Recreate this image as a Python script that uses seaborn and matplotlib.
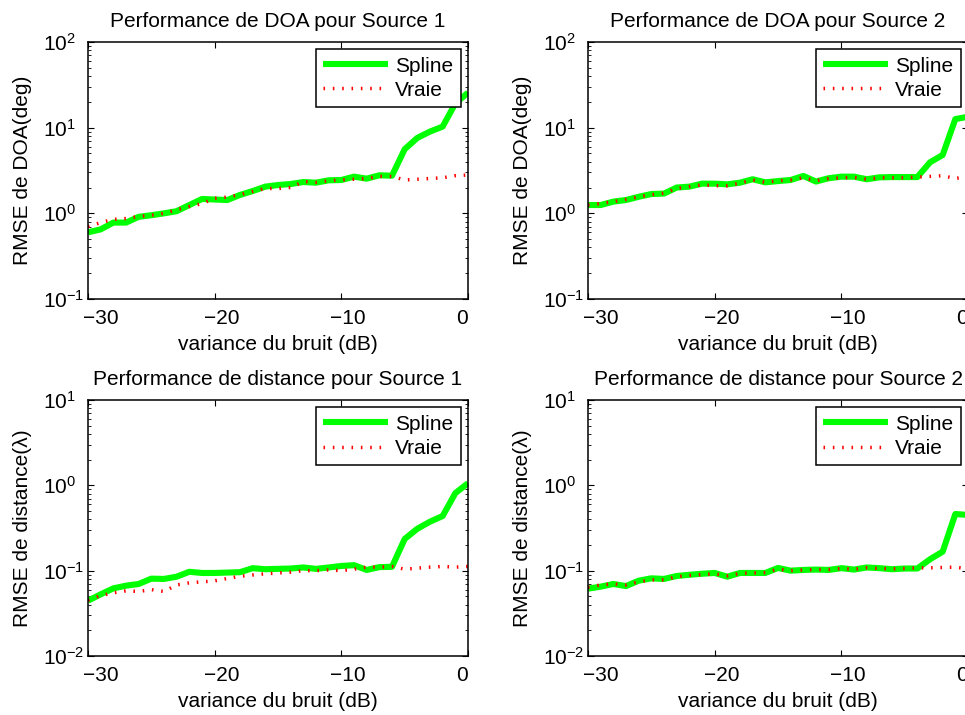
import numpy as np
import pandas as pd
import matplotlib
matplotlib.use("Agg")
import matplotlib.pyplot as plt
import matplotlib.transforms as mtransforms
import seaborn as sns
from matplotlib.ticker import LogLocator, NullLocator, FixedLocator

# Noise variance grid (dB)
noise_db = list(range(-30, 1))

# RMSE of DOA estimate (degrees), source 1
doa_s1_spline = [0.60, 0.65, 0.78, 0.78, 0.91, 0.95, 1.00, 1.06, 1.25, 1.47,
                 1.45, 1.43, 1.64, 1.82, 2.05, 2.14, 2.20, 2.32, 2.28, 2.43,
                 2.45, 2.68, 2.54, 2.78, 2.75, 5.6, 7.6, 9.0, 10.3, 19.2, 25.6]
doa_s1_vraie = [0.70, 0.78, 0.85, 0.87, 0.92, 0.95, 1.00, 1.10, 1.20, 1.30,
                1.50, 1.55, 1.65, 1.80, 1.95, 1.95, 2.00, 2.35, 2.30, 2.40,
                2.45, 2.50, 2.55, 2.70, 2.70, 2.45, 2.50, 2.55, 2.60, 2.75, 2.80]

# RMSE of DOA estimate (degrees), source 2
doa_s2_spline = [1.25, 1.25, 1.37, 1.43, 1.56, 1.68, 1.70, 2.00, 2.05, 2.22,
                 2.22, 2.18, 2.28, 2.50, 2.30, 2.38, 2.45, 2.73, 2.35, 2.57,
                 2.68, 2.68, 2.50, 2.63, 2.65, 2.65, 2.65, 3.94, 4.8, 12.6, 13.4]
doa_s2_vraie = [1.25, 1.30, 1.37, 1.45, 1.56, 1.65, 1.72, 1.95, 2.05, 2.15,
                2.10, 2.10, 2.25, 2.45, 2.30, 2.40, 2.45, 2.60, 2.40, 2.55,
                2.60, 2.62, 2.50, 2.60, 2.60, 2.60, 2.65, 2.70, 2.75, 2.55, 2.70]

# RMSE of distance estimate (wavelengths), source 1
dist_s1_spline = [0.0445, 0.0528, 0.062, 0.0667, 0.0698, 0.0806, 0.080, 0.085,
                  0.097, 0.094, 0.094, 0.095, 0.096, 0.107, 0.104, 0.105,
                  0.106, 0.109, 0.105, 0.109, 0.1135, 0.116, 0.102, 0.110,
                  0.111, 0.235, 0.31, 0.375, 0.437, 0.81, 1.06]
dist_s1_vraie = [0.045, 0.051, 0.055, 0.058, 0.057, 0.060, 0.057, 0.068,
                 0.072, 0.074, 0.076, 0.081, 0.086, 0.089, 0.092, 0.094,
                 0.096, 0.100, 0.100, 0.102, 0.100, 0.104, 0.110, 0.110,
                 0.112, 0.104, 0.107, 0.110, 0.112, 0.110, 0.112]

# RMSE of distance estimate (wavelengths), source 2
dist_s2_spline = [0.0615, 0.065, 0.0698, 0.066, 0.0763, 0.0813, 0.080, 0.0866,
                  0.0895, 0.092, 0.094, 0.085, 0.094, 0.094, 0.094, 0.1076,
                  0.100, 0.102, 0.103, 0.102, 0.107, 0.103, 0.109, 0.107,
                  0.104, 0.106, 0.106, 0.136, 0.167, 0.461, 0.450]
dist_s2_vraie = [0.064, 0.068, 0.070, 0.068, 0.074, 0.078, 0.078, 0.085,
                 0.088, 0.090, 0.092, 0.087, 0.093, 0.094, 0.095, 0.104,
                 0.100, 0.102, 0.103, 0.103, 0.106, 0.104, 0.108, 0.106,
                 0.105, 0.106, 0.108, 0.108, 0.109, 0.110, 0.105]

titles = ["Performance de DOA pour Source 1", "Performance de DOA pour Source 2",
          "Performance de distance pour Source 1", "Performance de distance pour Source 2"]
ylabels = ["RMSE de DOA(deg)", "RMSE de DOA(deg)",
           "RMSE de distance(λ)", "RMSE de distance(λ)"]
xlabel = "variance du bruit (dB)"
legend_labels = ["Spline", "Vraie"]
ylims = [(1e-1, 1e2), (1e-1, 1e2), (1e-2, 1e1), (1e-2, 1e1)]
xticks = [-30, -20, -10, 0]

series = [(doa_s1_spline, doa_s1_vraie), (doa_s2_spline, doa_s2_vraie),
          (dist_s1_spline, dist_s1_vraie), (dist_s2_spline, dist_s2_vraie)]

sns.set_theme(style="ticks")
plt.rcParams["font.family"] = ["Liberation Sans", "DejaVu Sans"]
plt.rcParams["mathtext.fontset"] = "custom"
plt.rcParams["mathtext.rm"] = "Liberation Sans"
plt.rcParams["mathtext.it"] = "Liberation Sans:italic"
plt.rcParams["axes.unicode_minus"] = True
for key in ["text.color", "axes.labelcolor", "xtick.color", "ytick.color",
            "axes.edgecolor"]:
    plt.rcParams[key] = "black"

FS = 15
fig = plt.figure(figsize=(9.65, 7.15), dpi=100)
fig.patch.set_facecolor("white")

W, H = 965.0, 715.0
axw = 380.0
boxes = [(88, 42, 299), (588, 42, 299), (88, 400, 656), (588, 400, 656)]
# horizontal nudge (px) of each x tick label
xlabel_shift = [13, 7, 6, -6]

for i, ((left, top, bottom), (spl, vra)) in enumerate(zip(boxes, series)):
    ax = fig.add_axes([left / W, 1 - bottom / H, axw / W, (bottom - top) / H])
    df = pd.DataFrame({"x": noise_db, "Spline": spl, "Vraie": vra})
    sns.lineplot(data=df, x="x", y="Spline", ax=ax, color="#00ff00",
                 linewidth=4.4, label=legend_labels[0], solid_capstyle="butt")
    sns.lineplot(data=df, x="x", y="Vraie", ax=ax, color="#ff0000",
                 linewidth=2.5, linestyle=(0, (0.45, 2.24)),
                 label=legend_labels[1])
    ax.set_yscale("log")
    ax.set_xlim(-30, 0)
    ax.set_ylim(*ylims[i])
    ax.xaxis.set_major_locator(FixedLocator(xticks))
    ax.xaxis.set_minor_locator(NullLocator())
    ax.yaxis.set_major_locator(LogLocator(base=10, numticks=10))
    ax.yaxis.set_minor_locator(LogLocator(base=10, subs=np.arange(2, 10), numticks=20))
    ax.tick_params(which="both", direction="in", top=True, right=True,
                   colors="black", labelsize=FS)
    ax.tick_params(which="major", length=4, width=0.8)
    ax.tick_params(which="minor", length=2.2, width=0.6)
    ax.tick_params(axis="x", pad=7)
    ax.tick_params(axis="y", pad=32.4)
    for sp in ax.spines.values():
        sp.set_color("black")
        sp.set_linewidth(1.1)
    ax.set_title(titles[i], fontsize=FS, pad=11)
    ax.set_xlabel(xlabel, fontsize=FS, labelpad=5)
    ax.set_ylabel(ylabels[i], fontsize=FS, labelpad=8)
    ax.set_facecolor("white")
    leg = ax.legend(loc="upper right", fontsize=FS, frameon=True, fancybox=False,
                    framealpha=1, edgecolor="black", handlelength=3.1,
                    handletextpad=0.35, labelspacing=0.25, borderpad=0.35,
                    borderaxespad=0.35)
    leg.get_frame().set_linewidth(1.1)

    # decade labels share a common left edge
    for lab in ax.get_yticklabels():
        lab.set_horizontalalignment("left")
    for lab, dx in zip(ax.get_xticklabels(), xlabel_shift):
        lab.set_transform(lab.get_transform() +
                          mtransforms.ScaledTranslation(dx / 100, 0, fig.dpi_scale_trans))

fig.savefig("out.png", dpi=100, facecolor="white")
